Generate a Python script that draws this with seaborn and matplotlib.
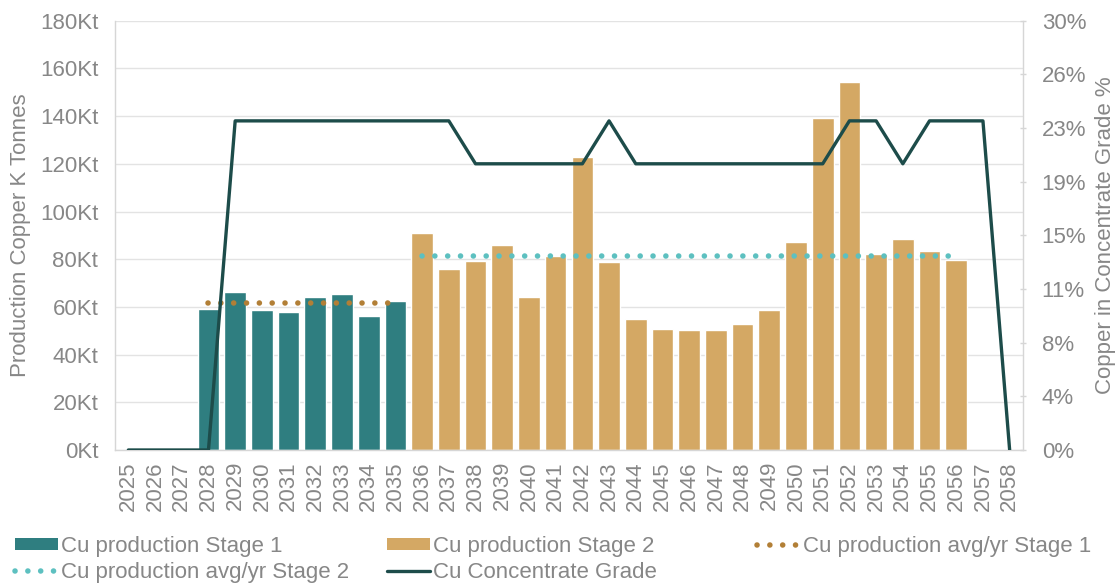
import numpy as np
import pandas as pd
import matplotlib
matplotlib.use("Agg")
import matplotlib.pyplot as plt
from matplotlib.patches import Patch
from matplotlib.lines import Line2D
from matplotlib.ticker import FuncFormatter, FixedLocator
import seaborn as sns

# ---- data -------------------------------------------------------------
years = list(range(2025, 2059))

stage1_years = list(range(2028, 2036))
stage1_kt = [59.0, 66.2, 58.7, 57.7, 64.0, 65.5, 56.3, 62.5]

stage2_years = list(range(2036, 2057))
stage2_kt = [90.8, 75.8, 79.1, 86.0, 64.3, 81.5, 123.0, 78.7, 54.8, 50.9,
             50.2, 50.3, 52.7, 58.7, 87.2, 139.3, 154.3, 82.3, 88.6, 83.3,
             79.7]

stage1_avg_kt = 61.5
stage2_avg_kt = 81.5

# copper grade in concentrate, % (one value per year 2025-2058)
grade_pct = [0, 0, 0, 0,
             23, 23, 23, 23, 23, 23, 23, 23, 23,
             20, 20, 20, 20, 20,
             23,
             20, 20, 20, 20, 20, 20, 20, 20,
             23, 23,
             20,
             23, 23, 23,
             0]

kt_ticks = [0, 20, 40, 60, 80, 100, 120, 140, 160, 180]

labels = ["Cu production Stage 1", "Cu production Stage 2",
          "Cu production avg/yr Stage 1", "Cu production avg/yr Stage 2",
          "Cu Concentrate Grade"]

# ---- style ------------------------------------------------------------
TEAL = "#2F7E80"
TAN = "#D4A864"
BROWN_DOT = "#B27F36"
AQUA_DOT = "#5DC0C0"
GRADE = "#1D4C4A"
TXT = "#878787"
GRID = "#E3E3E3"
SPINE = "#D6D6D6"
FS = 16

sns.set_theme(style="white")
plt.rcParams["font.family"] = ["Liberation Sans", "DejaVu Sans"]

fig = plt.figure(figsize=(11.18, 5.85), dpi=100)
ax = fig.add_axes([115 / 1118, 1 - 450 / 585, 908 / 1118, (450 - 20.7) / 585])

# ---- bars ---------------------------------------------------------------
bars = pd.DataFrame({
    "year": [str(y) for y in stage1_years + stage2_years],
    "kt": stage1_kt + stage2_kt,
    "stage": [labels[0]] * len(stage1_kt) + [labels[1]] * len(stage2_kt),
})
order = [str(y) for y in years]
sns.barplot(data=bars, x="year", y="kt", hue="stage", order=order,
            hue_order=labels[:2], palette=[TEAL, TAN], dodge=False,
            width=0.81, saturation=1, errorbar=None, legend=False, ax=ax)

# ---- average lines (round dots) ----------------------------------------
pos = {y: i for i, y in enumerate(years)}
dot_style = dict(linewidth=4.0, linestyle=(0, (0.01, 2.3)),
                 dash_capstyle="round")
sns.lineplot(x=[pos[stage1_years[0]], pos[stage1_years[-1]]],
             y=[stage1_avg_kt, stage1_avg_kt], color=BROWN_DOT, ax=ax,
             **dot_style)
sns.lineplot(x=[pos[stage2_years[0]], pos[stage2_years[-1]]],
             y=[stage2_avg_kt, stage2_avg_kt], color=AQUA_DOT, ax=ax,
             **dot_style)

# ---- left axis ----------------------------------------------------------
ax.set_ylim(0, 180)
ax.set_xlim(-0.5, len(years) - 0.5)
ax.yaxis.set_major_locator(FixedLocator(kt_ticks))
ax.yaxis.set_major_formatter(FuncFormatter(lambda v, p: f"{int(round(v))}Kt"))
ax.yaxis.grid(True, color=GRID, linewidth=1.0)
ax.xaxis.grid(False)
ax.set_axisbelow(True)
ax.tick_params(axis="y", length=0, pad=12, labelsize=FS, labelcolor=TXT)
ax.tick_params(axis="x", length=0, pad=8, labelsize=FS, labelcolor=TXT,
               rotation=90)
ax.set_xlabel("")
ax.set_ylabel("Production Copper K Tonnes", fontsize=FS, color=TXT)
ax.yaxis.set_label_coords(-0.092, 0.5)
for side in ["top", "right"]:
    ax.spines[side].set_visible(False)
for side in ["left", "bottom"]:
    ax.spines[side].set_color(SPINE)
    ax.spines[side].set_linewidth(1.0)

# ---- right axis: grade --------------------------------------------------
ax2 = ax.twinx()
sns.lineplot(x=np.arange(len(years)), y=grade_pct, color=GRADE,
             linewidth=2.4, ax=ax2)
ax2.set_ylim(0, 30)
ax2.yaxis.set_major_locator(FixedLocator(np.linspace(0, 30, 9)))
ax2.yaxis.set_major_formatter(FuncFormatter(lambda v, p: f"{int(v + 0.5)}%"))
ax2.tick_params(axis="y", length=5, width=1, direction="inout", color=SPINE,
                pad=11, labelsize=FS, labelcolor=TXT)
ax2.set_ylabel("Copper in Concentrate Grade %", fontsize=FS, color=TXT)
ax2.yaxis.set_label_coords(1.079, 0.5)
ax2.grid(False)
for side in ["top", "left", "bottom"]:
    ax2.spines[side].set_visible(False)
ax2.spines["right"].set_color(SPINE)
ax2.spines["right"].set_linewidth(1.0)

# ---- legend: three equal-width columns ---------------------------------
h = [
    Patch(facecolor=TEAL, edgecolor="none"),
    Patch(facecolor=TAN, edgecolor="none"),
    Line2D([], [], color=BROWN_DOT, **dot_style),
    Line2D([], [], color=AQUA_DOT, **dot_style),
    Line2D([], [], color=GRADE, linewidth=2.4),
]
columns = [([0, 3], 15), ([1, 4], 387), ([2], 757)]
legend_top = 1 - 536 / 585
for items, x_px in columns:
    leg = fig.legend([h[i] for i in items], [labels[i] for i in items],
                     ncol=1, loc="upper left",
                     bbox_to_anchor=(x_px / 1118, legend_top),
                     frameon=False, fontsize=FS, labelcolor=TXT,
                     handlelength=1.95, handleheight=0.5, handletextpad=0.1,
                     labelspacing=0.21, borderpad=0, borderaxespad=0)

fig.savefig("out.png", dpi=100, facecolor="white")
